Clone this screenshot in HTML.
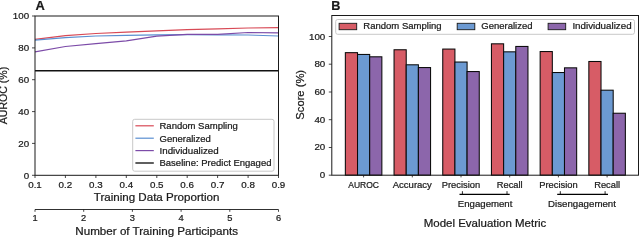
<!DOCTYPE html>
<html><head><meta charset="utf-8"><style>
html,body{margin:0;padding:0;background:#fff;overflow:hidden;}
svg{display:block;}
#w{width:640px;height:237px;overflow:hidden;will-change:transform;}
text{font-family:"Liberation Sans", sans-serif;stroke:#1a1a1a;stroke-width:0.22px;}
</style></head><body><div id="w">
<svg width="640" height="237" viewBox="0 0 640 237">
<rect width="640" height="237" fill="#fff"/>
<text x="35.60" y="10.20" font-size="12.54" font-weight="bold" textLength="9.29" lengthAdjust="spacingAndGlyphs" fill="#1a1a1a">A</text>
<polyline points="35.0,39.3 65.4,35.7 95.9,33.5 126.3,32.1 156.8,30.9 187.2,29.6 217.6,28.9 248.1,28.0 278.5,27.6" fill="none" stroke="#d84a56" stroke-width="1.2"/>
<polyline points="35.0,40.2 65.4,37.6 95.9,36.0 126.3,35.3 156.8,34.8 187.2,34.6 217.6,34.8 248.1,35.0 278.5,36.0" fill="none" stroke="#5b8fd1" stroke-width="1.2"/>
<polyline points="35.0,51.8 65.4,46.5 95.9,43.6 126.3,40.9 156.8,36.2 187.2,34.4 217.6,34.3 248.1,32.5 278.5,32.8" fill="none" stroke="#7c4ba8" stroke-width="1.2"/>
<line x1="35.0" y1="70.8" x2="278.5" y2="70.8" stroke="#111" stroke-width="1.5"/>
<rect x="132.7" y="119.3" width="141.3" height="51.9" rx="2" ry="2" fill="#fff" fill-opacity="0.8" stroke="#c8c8c8" stroke-width="1"/>
<line x1="135.4" y1="125.8" x2="153.8" y2="125.8" stroke="#d84a56" stroke-width="1.2"/>
<text x="159.50" y="129.20" font-size="8.93" textLength="78.32" lengthAdjust="spacingAndGlyphs" fill="#1a1a1a">Random Sampling</text>
<line x1="135.4" y1="138.2" x2="153.8" y2="138.2" stroke="#5b8fd1" stroke-width="1.2"/>
<text x="159.50" y="141.60" font-size="8.93" textLength="51.25" lengthAdjust="spacingAndGlyphs" fill="#1a1a1a">Generalized</text>
<line x1="135.4" y1="150.6" x2="153.8" y2="150.6" stroke="#7c4ba8" stroke-width="1.2"/>
<text x="159.50" y="154.00" font-size="8.93" textLength="59.19" lengthAdjust="spacingAndGlyphs" fill="#1a1a1a">Individualized</text>
<line x1="135.4" y1="163.0" x2="153.8" y2="163.0" stroke="#1a1a1a" stroke-width="1.4"/>
<text x="159.50" y="166.40" font-size="8.93" textLength="111.96" lengthAdjust="spacingAndGlyphs" fill="#1a1a1a">Baseline: Predict Engaged</text>
<rect x="35.0" y="16.0" width="243.5" height="159.3" fill="none" stroke="#1a1a1a" stroke-width="1"/>
<line x1="32.0" y1="175.3" x2="35.0" y2="175.3" stroke="#1a1a1a" stroke-width="0.8"/>
<text x="23.66" y="178.70" font-size="9.41" textLength="5.44" lengthAdjust="spacingAndGlyphs" fill="#1a1a1a">0</text>
<line x1="32.0" y1="143.4" x2="35.0" y2="143.4" stroke="#1a1a1a" stroke-width="0.8"/>
<text x="18.22" y="146.84" font-size="9.41" textLength="10.88" lengthAdjust="spacingAndGlyphs" fill="#1a1a1a">20</text>
<line x1="32.0" y1="111.6" x2="35.0" y2="111.6" stroke="#1a1a1a" stroke-width="0.8"/>
<text x="18.22" y="114.98" font-size="9.41" textLength="10.88" lengthAdjust="spacingAndGlyphs" fill="#1a1a1a">40</text>
<line x1="32.0" y1="79.7" x2="35.0" y2="79.7" stroke="#1a1a1a" stroke-width="0.8"/>
<text x="18.22" y="83.12" font-size="9.41" textLength="10.88" lengthAdjust="spacingAndGlyphs" fill="#1a1a1a">60</text>
<line x1="32.0" y1="47.9" x2="35.0" y2="47.9" stroke="#1a1a1a" stroke-width="0.8"/>
<text x="18.22" y="51.26" font-size="9.41" textLength="10.88" lengthAdjust="spacingAndGlyphs" fill="#1a1a1a">80</text>
<line x1="32.0" y1="16.0" x2="35.0" y2="16.0" stroke="#1a1a1a" stroke-width="0.8"/>
<text x="12.78" y="19.40" font-size="9.41" textLength="16.32" lengthAdjust="spacingAndGlyphs" fill="#1a1a1a">100</text>
<line x1="35.0" y1="175.3" x2="35.0" y2="178.0" stroke="#1a1a1a" stroke-width="0.8"/>
<text x="28.20" y="187.60" font-size="9.41" textLength="13.60" lengthAdjust="spacingAndGlyphs" fill="#1a1a1a">0.1</text>
<line x1="65.4" y1="175.3" x2="65.4" y2="178.0" stroke="#1a1a1a" stroke-width="0.8"/>
<text x="58.64" y="187.60" font-size="9.41" textLength="13.60" lengthAdjust="spacingAndGlyphs" fill="#1a1a1a">0.2</text>
<line x1="95.9" y1="175.3" x2="95.9" y2="178.0" stroke="#1a1a1a" stroke-width="0.8"/>
<text x="89.08" y="187.60" font-size="9.41" textLength="13.60" lengthAdjust="spacingAndGlyphs" fill="#1a1a1a">0.3</text>
<line x1="126.3" y1="175.3" x2="126.3" y2="178.0" stroke="#1a1a1a" stroke-width="0.8"/>
<text x="119.51" y="187.60" font-size="9.41" textLength="13.60" lengthAdjust="spacingAndGlyphs" fill="#1a1a1a">0.4</text>
<line x1="156.8" y1="175.3" x2="156.8" y2="178.0" stroke="#1a1a1a" stroke-width="0.8"/>
<text x="149.95" y="187.60" font-size="9.41" textLength="13.60" lengthAdjust="spacingAndGlyphs" fill="#1a1a1a">0.5</text>
<line x1="187.2" y1="175.3" x2="187.2" y2="178.0" stroke="#1a1a1a" stroke-width="0.8"/>
<text x="180.39" y="187.60" font-size="9.41" textLength="13.60" lengthAdjust="spacingAndGlyphs" fill="#1a1a1a">0.6</text>
<line x1="217.6" y1="175.3" x2="217.6" y2="178.0" stroke="#1a1a1a" stroke-width="0.8"/>
<text x="210.83" y="187.60" font-size="9.41" textLength="13.60" lengthAdjust="spacingAndGlyphs" fill="#1a1a1a">0.7</text>
<line x1="248.1" y1="175.3" x2="248.1" y2="178.0" stroke="#1a1a1a" stroke-width="0.8"/>
<text x="241.26" y="187.60" font-size="9.41" textLength="13.60" lengthAdjust="spacingAndGlyphs" fill="#1a1a1a">0.8</text>
<line x1="278.5" y1="175.3" x2="278.5" y2="178.0" stroke="#1a1a1a" stroke-width="0.8"/>
<text x="271.70" y="187.60" font-size="9.41" textLength="13.60" lengthAdjust="spacingAndGlyphs" fill="#1a1a1a">0.9</text>
<text x="93.79" y="200.80" font-size="10.66" textLength="125.62" lengthAdjust="spacingAndGlyphs" fill="#1a1a1a">Training Data Proportion</text>
<line x1="35.0" y1="209.5" x2="278.5" y2="209.5" stroke="#1a1a1a" stroke-width="0.9"/>
<line x1="35.0" y1="209.5" x2="35.0" y2="211.8" stroke="#1a1a1a" stroke-width="0.8"/>
<text x="32.42" y="221.40" font-size="8.49" textLength="5.17" lengthAdjust="spacingAndGlyphs" fill="#1a1a1a">1</text>
<line x1="83.7" y1="209.5" x2="83.7" y2="211.8" stroke="#1a1a1a" stroke-width="0.8"/>
<text x="81.12" y="221.40" font-size="8.49" textLength="5.17" lengthAdjust="spacingAndGlyphs" fill="#1a1a1a">2</text>
<line x1="132.4" y1="209.5" x2="132.4" y2="211.8" stroke="#1a1a1a" stroke-width="0.8"/>
<text x="129.82" y="221.40" font-size="8.49" textLength="5.17" lengthAdjust="spacingAndGlyphs" fill="#1a1a1a">3</text>
<line x1="181.1" y1="209.5" x2="181.1" y2="211.8" stroke="#1a1a1a" stroke-width="0.8"/>
<text x="178.52" y="221.40" font-size="8.49" textLength="5.17" lengthAdjust="spacingAndGlyphs" fill="#1a1a1a">4</text>
<line x1="229.8" y1="209.5" x2="229.8" y2="211.8" stroke="#1a1a1a" stroke-width="0.8"/>
<text x="227.22" y="221.40" font-size="8.49" textLength="5.17" lengthAdjust="spacingAndGlyphs" fill="#1a1a1a">5</text>
<line x1="278.5" y1="209.5" x2="278.5" y2="211.8" stroke="#1a1a1a" stroke-width="0.8"/>
<text x="275.92" y="221.40" font-size="8.49" textLength="5.17" lengthAdjust="spacingAndGlyphs" fill="#1a1a1a">6</text>
<text x="75.37" y="234.50" font-size="10.66" textLength="162.65" lengthAdjust="spacingAndGlyphs" fill="#1a1a1a">Number of Training Participants</text>
<text transform="translate(6.90,95.50) rotate(-90)" x="-28.79" y="0" font-size="10.66" textLength="57.57" lengthAdjust="spacingAndGlyphs" fill="#1a1a1a">AUROC (%)</text>
<text x="331.30" y="9.90" font-size="12.54" font-weight="bold" textLength="9.15" lengthAdjust="spacingAndGlyphs" fill="#1a1a1a">B</text>
<rect x="345.35" y="52.66" width="12.17" height="122.54" fill="#d75c66" stroke="#0a0a0a" stroke-width="1.05"/>
<rect x="357.52" y="54.45" width="12.17" height="120.75" fill="#6c9ad2" stroke="#0a0a0a" stroke-width="1.05"/>
<rect x="369.69" y="56.80" width="12.17" height="118.40" fill="#8c66ab" stroke="#0a0a0a" stroke-width="1.05"/>
<line x1="363.6" y1="175.2" x2="363.6" y2="177.39999999999998" stroke="#1a1a1a" stroke-width="0.8"/>
<text x="348.23" y="187.50" font-size="8.93" textLength="30.75" lengthAdjust="spacingAndGlyphs" fill="#1a1a1a">AUROC</text>
<rect x="394.05" y="49.76" width="12.17" height="125.44" fill="#d75c66" stroke="#0a0a0a" stroke-width="1.05"/>
<rect x="406.22" y="64.80" width="12.17" height="110.40" fill="#6c9ad2" stroke="#0a0a0a" stroke-width="1.05"/>
<rect x="418.39" y="67.56" width="12.17" height="107.64" fill="#8c66ab" stroke="#0a0a0a" stroke-width="1.05"/>
<line x1="412.3" y1="175.2" x2="412.3" y2="177.39999999999998" stroke="#1a1a1a" stroke-width="0.8"/>
<text x="392.71" y="187.50" font-size="8.93" textLength="39.18" lengthAdjust="spacingAndGlyphs" fill="#1a1a1a">Accuracy</text>
<rect x="442.75" y="49.07" width="12.17" height="126.13" fill="#d75c66" stroke="#0a0a0a" stroke-width="1.05"/>
<rect x="454.92" y="62.04" width="12.17" height="113.16" fill="#6c9ad2" stroke="#0a0a0a" stroke-width="1.05"/>
<rect x="467.09" y="71.56" width="12.17" height="103.64" fill="#8c66ab" stroke="#0a0a0a" stroke-width="1.05"/>
<line x1="461.0" y1="175.2" x2="461.0" y2="177.39999999999998" stroke="#1a1a1a" stroke-width="0.8"/>
<text x="441.76" y="187.50" font-size="8.93" textLength="38.49" lengthAdjust="spacingAndGlyphs" fill="#1a1a1a">Precision</text>
<rect x="491.45" y="43.82" width="12.17" height="131.38" fill="#d75c66" stroke="#0a0a0a" stroke-width="1.05"/>
<rect x="503.62" y="51.83" width="12.17" height="123.37" fill="#6c9ad2" stroke="#0a0a0a" stroke-width="1.05"/>
<rect x="515.79" y="46.45" width="12.17" height="128.75" fill="#8c66ab" stroke="#0a0a0a" stroke-width="1.05"/>
<line x1="509.7" y1="175.2" x2="509.7" y2="177.39999999999998" stroke="#1a1a1a" stroke-width="0.8"/>
<text x="496.76" y="187.50" font-size="8.93" textLength="25.89" lengthAdjust="spacingAndGlyphs" fill="#1a1a1a">Recall</text>
<rect x="540.15" y="51.55" width="12.17" height="123.65" fill="#d75c66" stroke="#0a0a0a" stroke-width="1.05"/>
<rect x="552.32" y="72.53" width="12.17" height="102.67" fill="#6c9ad2" stroke="#0a0a0a" stroke-width="1.05"/>
<rect x="564.49" y="67.84" width="12.17" height="107.36" fill="#8c66ab" stroke="#0a0a0a" stroke-width="1.05"/>
<line x1="558.4" y1="175.2" x2="558.4" y2="177.39999999999998" stroke="#1a1a1a" stroke-width="0.8"/>
<text x="539.16" y="187.50" font-size="8.93" textLength="38.49" lengthAdjust="spacingAndGlyphs" fill="#1a1a1a">Precision</text>
<rect x="588.85" y="61.49" width="12.17" height="113.71" fill="#d75c66" stroke="#0a0a0a" stroke-width="1.05"/>
<rect x="601.02" y="90.19" width="12.17" height="85.01" fill="#6c9ad2" stroke="#0a0a0a" stroke-width="1.05"/>
<rect x="613.19" y="113.24" width="12.17" height="61.96" fill="#8c66ab" stroke="#0a0a0a" stroke-width="1.05"/>
<line x1="607.1" y1="175.2" x2="607.1" y2="177.39999999999998" stroke="#1a1a1a" stroke-width="0.8"/>
<text x="594.16" y="187.50" font-size="8.93" textLength="25.89" lengthAdjust="spacingAndGlyphs" fill="#1a1a1a">Recall</text>
<line x1="459.5" y1="194.4" x2="509.7" y2="194.4" stroke="#000" stroke-width="1.15"/>
<line x1="462.4" y1="191.2" x2="462.4" y2="194.4" stroke="#000" stroke-width="0.85"/>
<line x1="507.0" y1="191.2" x2="507.0" y2="194.4" stroke="#000" stroke-width="0.85"/>
<text x="457.83" y="206.80" font-size="8.93" textLength="54.54" lengthAdjust="spacingAndGlyphs" fill="#1a1a1a">Engagement</text>
<line x1="557.2" y1="194.4" x2="608.0" y2="194.4" stroke="#000" stroke-width="1.15"/>
<line x1="560.3" y1="191.2" x2="560.3" y2="194.4" stroke="#000" stroke-width="0.85"/>
<line x1="605.1" y1="191.2" x2="605.1" y2="194.4" stroke="#000" stroke-width="0.85"/>
<text x="548.10" y="206.80" font-size="8.93" textLength="67.81" lengthAdjust="spacingAndGlyphs" fill="#1a1a1a">Disengagement</text>
<text x="423.68" y="226.50" font-size="10.66" textLength="122.64" lengthAdjust="spacingAndGlyphs" fill="#1a1a1a">Model Evaluation Metric</text>
<text transform="translate(303.50,94.80) rotate(-90)" x="-24.84" y="0" font-size="10.66" textLength="49.69" lengthAdjust="spacingAndGlyphs" fill="#1a1a1a">Score (%)</text>
<rect x="335.7" y="19.5" width="298.8" height="14.8" rx="2" ry="2" fill="#fff" fill-opacity="0.8" stroke="#c8c8c8" stroke-width="1"/>
<rect x="339.1" y="23.3" width="17.6" height="6.4" fill="#d75c66" stroke="#1a1a1a" stroke-width="0.9"/>
<text x="363.30" y="29.40" font-size="8.93" textLength="78.32" lengthAdjust="spacingAndGlyphs" fill="#1a1a1a">Random Sampling</text>
<rect x="457.2" y="23.3" width="17.6" height="6.4" fill="#6c9ad2" stroke="#1a1a1a" stroke-width="0.9"/>
<text x="481.30" y="29.40" font-size="8.93" textLength="51.25" lengthAdjust="spacingAndGlyphs" fill="#1a1a1a">Generalized</text>
<rect x="548.1" y="23.3" width="17.6" height="6.4" fill="#8c66ab" stroke="#1a1a1a" stroke-width="0.9"/>
<text x="572.40" y="29.40" font-size="8.93" textLength="59.19" lengthAdjust="spacingAndGlyphs" fill="#1a1a1a">Individualized</text>
<rect x="331.8" y="15.5" width="306.7" height="159.7" fill="none" stroke="#1a1a1a" stroke-width="1"/>
<line x1="328.8" y1="175.2" x2="331.8" y2="175.2" stroke="#1a1a1a" stroke-width="0.8"/>
<text x="319.86" y="178.20" font-size="9.41" textLength="5.44" lengthAdjust="spacingAndGlyphs" fill="#1a1a1a">0</text>
<line x1="328.8" y1="147.5" x2="331.8" y2="147.5" stroke="#1a1a1a" stroke-width="0.8"/>
<text x="314.42" y="150.46" font-size="9.41" textLength="10.88" lengthAdjust="spacingAndGlyphs" fill="#1a1a1a">20</text>
<line x1="328.8" y1="119.7" x2="331.8" y2="119.7" stroke="#1a1a1a" stroke-width="0.8"/>
<text x="314.42" y="122.72" font-size="9.41" textLength="10.88" lengthAdjust="spacingAndGlyphs" fill="#1a1a1a">40</text>
<line x1="328.8" y1="92.0" x2="331.8" y2="92.0" stroke="#1a1a1a" stroke-width="0.8"/>
<text x="314.42" y="94.98" font-size="9.41" textLength="10.88" lengthAdjust="spacingAndGlyphs" fill="#1a1a1a">60</text>
<line x1="328.8" y1="64.2" x2="331.8" y2="64.2" stroke="#1a1a1a" stroke-width="0.8"/>
<text x="314.42" y="67.24" font-size="9.41" textLength="10.88" lengthAdjust="spacingAndGlyphs" fill="#1a1a1a">80</text>
<line x1="328.8" y1="36.5" x2="331.8" y2="36.5" stroke="#1a1a1a" stroke-width="0.8"/>
<text x="308.98" y="39.50" font-size="9.41" textLength="16.32" lengthAdjust="spacingAndGlyphs" fill="#1a1a1a">100</text>
</svg></div></body></html>
